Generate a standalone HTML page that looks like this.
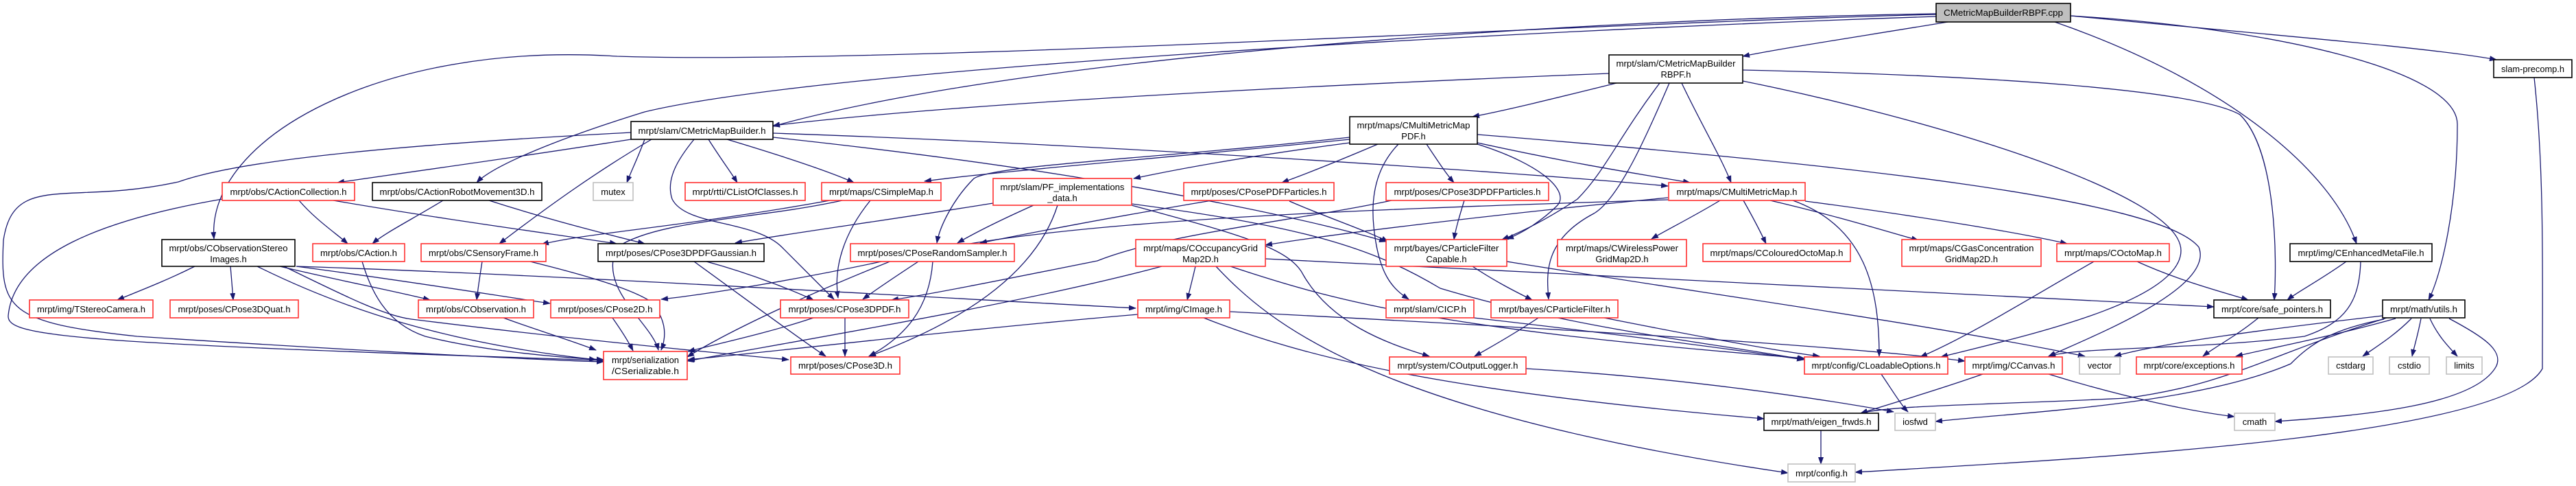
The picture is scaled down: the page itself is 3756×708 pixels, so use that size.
<!DOCTYPE html>
<html><head><meta charset="utf-8"><style>
html,body{margin:0;padding:0;background:#fff;}
svg{display:block;}
text{font-family:"Liberation Sans",Arial,sans-serif;font-size:13px;fill:#000;}
.r{fill:#fff;stroke:#ff3030;stroke-width:1.6;}
.b{fill:#fff;stroke:#000;stroke-width:1.6;}
.g{fill:#fff;stroke:#c0c0c0;stroke-width:1.6;}
.e{fill:none;stroke:#191970;stroke-width:1.3;}
</style></head><body>
<svg width="3756" height="708" viewBox="0 0 3756 708" xmlns="http://www.w3.org/2000/svg">
<defs><marker id="a" markerUnits="userSpaceOnUse" markerWidth="11" markerHeight="8" refX="10" refY="4" orient="auto"><path d="M0,0 L11,4 L0,8 z" fill="#191970"/></marker></defs>
<g class="e" marker-end="url(#a)">
<path d="M2840,32 C2700,55 2600,70 2541,82"/>
<path d="M2823,20 C2300,28 1500,80 1127,184"/>
<path d="M2823,21 C2300,34 1300,95 900,82 C560,60 300,200 312,348"/>
<path d="M2823,24 C2200,45 1200,100 940,163 C820,200 720,240 695,266"/>
<path d="M2996,32 C3250,120 3400,250 3436,355"/>
<path d="M3019,23 C3300,40 3583,100 3583,181 C3583,300 3560,400 3541,437"/>
<path d="M3019,23 C3300,50 3550,70 3640,87"/>
<path d="M3695,113 C3710,250 3707,400 3707,537 C3650,640 3000,670 2705,688"/>
<path d="M2357,121 C2280,140 2200,160 2147,170"/>
<path d="M2346,107 C1900,125 1400,150 1127,183"/>
<path d="M2452,121 C2480,180 2510,230 2524,266"/>
<path d="M2420,121 C2360,200 2340,250 2300,290 C2240,330 2200,345 2190,349"/>
<path d="M2434,121 C2400,200 2360,290 2324,311 C2250,350 2255,400 2258,436"/>
<path d="M2541,102 C2900,110 3200,130 3266,167 C3320,220 3320,380 3316,437"/>
<path d="M2541,118 C2800,170 3180,280 3180,365 C3180,440 2950,490 2830,520"/>
<path d="M1968,203 C1700,230 1450,250 1348,264"/>
<path d="M1968,208 C1800,230 1700,250 1653,260"/>
<path d="M2009,210 C1950,235 1900,255 1869,266"/>
<path d="M1968,200 C1700,230 1450,240 1420,260 C1390,290 1370,330 1366,354"/>
<path d="M2080,210 C2100,240 2110,255 2120,266"/>
<path d="M2154,208 C2300,240 2400,255 2464,266"/>
<path d="M2154,210 C2250,240 2290,280 2270,300 C2250,320 2220,340 2197,348"/>
<path d="M2039,210 C2000,250 2000,300 2003,330 C2010,400 2030,420 2054,436"/>
<path d="M2154,196 C2700,240 3150,290 3206,360 C3230,420 3050,490 2987,519"/>
<path d="M920,203 C750,230 600,250 492,266"/>
<path d="M920,193 C500,215 330,240 260,265 C100,300 20,250 5,350 C0,450 10,470 200,490 C500,510 800,525 880,527"/>
<path d="M940,203 C930,230 920,250 914,266"/>
<path d="M1033,203 C1050,230 1065,250 1075,266"/>
<path d="M1060,203 C1150,230 1210,250 1245,266"/>
<path d="M1012,203 C990,230 970,260 980,290 C1000,330 1100,320 1140,360 C1180,400 1200,420 1216,436"/>
<path d="M1127,194 C1600,210 2200,250 2432,271"/>
<path d="M1127,200 C1500,240 1700,280 1800,300 C1900,320 1980,340 2021,352"/>
<path d="M950,203 C870,250 800,300 728,355"/>
<path d="M436,292 C460,320 490,340 507,355"/>
<path d="M486,292 C650,320 800,340 899,355"/>
<path d="M324,290 C150,320 20,370 12,460 C10,490 100,500 880,525"/>
<path d="M646,292 C600,320 560,340 543,355"/>
<path d="M713,292 C800,320 880,340 940,355"/>
<path d="M284,388 C240,410 200,425 171,437"/>
<path d="M336,388 C338,410 339,425 340,437"/>
<path d="M408,388 C500,410 580,425 627,437"/>
<path d="M432,388 C600,410 720,430 802,442"/>
<path d="M432,388 C800,400 1300,430 1656,449"/>
<path d="M375,388 C500,450 650,500 869,524"/>
<path d="M414,388 C500,430 560,460 600,465 C800,490 1000,510 1150,524"/>
<path d="M528,381 C540,420 560,470 620,490 C700,510 800,520 880,524"/>
<path d="M703,381 C700,400 697,420 695,437"/>
<path d="M773,381 C850,400 920,420 950,440 C975,470 970,495 964,510"/>
<path d="M734,463 C780,480 830,495 869,510"/>
<path d="M893,463 C905,480 915,495 923,511"/>
<path d="M1030,381 C1100,400 1160,425 1186,437"/>
<path d="M1012,381 C1080,430 1160,490 1204,519"/>
<path d="M1269,292 C1230,340 1215,390 1222,434"/>
<path d="M1228,292 C1100,320 960,320 900,360 C870,420 950,470 960,510"/>
<path d="M1210,292 C1000,330 850,340 790,356"/>
<path d="M1448,296 C1300,320 1150,340 1072,354"/>
<path d="M1507,299 C1460,320 1420,340 1396,354"/>
<path d="M1542,299 C1510,400 1400,470 1267,519"/>
<path d="M1650,299 C1800,340 1880,360 1900,400 C1940,470 2020,500 2084,519"/>
<path d="M1650,297 C1900,330 2000,360 2100,420 C2300,480 2500,500 2631,524"/>
<path d="M1767,292 C1600,320 1500,340 1429,354"/>
<path d="M1880,293 C1930,315 1990,335 2024,352"/>
<path d="M2135,292 C2128,315 2122,335 2120,349"/>
<path d="M2029,292 C1900,320 1700,340 1600,380 C1450,410 1350,430 1300,437"/>
<path d="M2432,288 C2200,310 1950,340 1845,357"/>
<path d="M2508,292 C2470,315 2430,335 2408,348"/>
<path d="M2542,292 C2555,315 2568,340 2575,355"/>
<path d="M2581,292 C2680,315 2760,340 2797,350"/>
<path d="M2632,293 C2800,315 2950,340 3014,355"/>
<path d="M2614,292 C2720,330 2740,420 2740,519"/>
<path d="M2432,291 C2000,305 1500,320 1300,380 C1150,440 1050,490 1002,520"/>
<path d="M2147,388 C2180,410 2210,425 2234,437"/>
<path d="M2197,381 C2500,430 2800,470 3040,519"/>
<path d="M1743,388 C1738,410 1734,425 1731,437"/>
<path d="M1694,388 C1500,440 1200,490 1002,526"/>
<path d="M1794,388 C1950,440 2100,480 2631,522"/>
<path d="M1773,388 C1850,470 2000,600 2607,689"/>
<path d="M1845,377 C2300,400 2900,430 3228,447"/>
<path d="M1659,458 C1400,480 1150,510 1003,524"/>
<path d="M1793,454 C2300,480 2700,505 2865,526"/>
<path d="M1755,463 C1900,520 2100,570 2572,610"/>
<path d="M1232,463 L1232,519"/>
<path d="M1186,463 C1120,485 1050,500 1003,512"/>
<path d="M1339,381 C1310,400 1280,420 1258,436"/>
<path d="M1360,381 C1355,450 1320,490 1267,519"/>
<path d="M1285,381 C1150,410 1020,430 964,436"/>
<path d="M2149,463 C2300,480 2500,505 2630,524"/>
<path d="M2243,463 C2210,485 2175,505 2150,519"/>
<path d="M2339,463 C2450,485 2580,510 2653,519"/>
<path d="M2225,537 C2450,550 2650,580 2761,600"/>
<path d="M2743,545 C2760,570 2772,590 2782,600"/>
<path d="M2655,627 L2655,676"/>
<path d="M3116,381 C3180,410 3240,425 3278,437"/>
<path d="M3053,381 C2950,440 2870,490 2800,520"/>
<path d="M3421,381 C3380,410 3350,425 3335,437"/>
<path d="M3442,381 C3440,440 3420,470 3360,490 C3200,510 3030,505 2987,519"/>
<path d="M3293,463 C3260,490 3230,505 3212,519"/>
<path d="M3474,460 C3300,480 3150,500 3083,519"/>
<path d="M3493,464 C3400,490 3320,505 3260,519"/>
<path d="M3516,464 C3490,490 3465,505 3445,519"/>
<path d="M3530,464 C3525,490 3520,505 3517,519"/>
<path d="M3543,464 C3555,490 3570,505 3583,519"/>
<path d="M3571,464 C3620,490 3650,510 3640,533 C3610,590 3450,605 3317,614"/>
<path d="M3476,465 C3400,480 3370,500 3340,530 C3200,590 2950,600 2822,614"/>
<path d="M3480,463 C3300,520 3250,560 3100,580 C2900,590 2760,590 2713,602"/>
<path d="M2987,545 C3100,580 3200,600 3258,607"/>
<path d="M2891,545 C2820,570 2750,590 2713,602"/>
</g>
<!-- nodes -->
<rect class="g" x="2823" y="5" width="196" height="27" style="fill:#bfbfbf;stroke:#000"/><text x="2921" y="23" text-anchor="middle" textLength="174" lengthAdjust="spacingAndGlyphs">CMetricMapBuilderRBPF.cpp</text>
<rect class="b" x="2346" y="80" width="195" height="41"/><text x="2443.5" y="97" text-anchor="middle" textLength="174" lengthAdjust="spacingAndGlyphs">mrpt/slam/CMetricMapBuilder</text><text x="2443.5" y="113" text-anchor="middle">RBPF.h</text>
<rect class="b" x="3636" y="87" width="114" height="26"/><text x="3693" y="105" text-anchor="middle" textLength="92" lengthAdjust="spacingAndGlyphs">slam-precomp.h</text>
<rect class="b" x="920" y="177" width="207" height="26"/><text x="1023.5" y="195" text-anchor="middle" textLength="186" lengthAdjust="spacingAndGlyphs">mrpt/slam/CMetricMapBuilder.h</text>
<rect class="b" x="1968" y="170" width="186" height="40"/><text x="2061" y="187" text-anchor="middle" textLength="165" lengthAdjust="spacingAndGlyphs">mrpt/maps/CMultiMetricMap</text><text x="2061" y="203" text-anchor="middle">PDF.h</text>
<rect class="r" x="324" y="266" width="193" height="26"/><text x="420.5" y="284" text-anchor="middle" textLength="170" lengthAdjust="spacingAndGlyphs">mrpt/obs/CActionCollection.h</text>
<rect class="b" x="543" y="266" width="247" height="26"/><text x="666.5" y="284" text-anchor="middle" textLength="226" lengthAdjust="spacingAndGlyphs">mrpt/obs/CActionRobotMovement3D.h</text>
<rect class="g" x="865" y="266" width="58" height="26"/><text x="894" y="284" text-anchor="middle">mutex</text>
<rect class="r" x="999" y="266" width="175" height="26"/><text x="1086.5" y="284" text-anchor="middle" textLength="154" lengthAdjust="spacingAndGlyphs">mrpt/rtti/CListOfClasses.h</text>
<rect class="r" x="1198" y="266" width="174" height="26"/><text x="1285" y="284" text-anchor="middle" textLength="152" lengthAdjust="spacingAndGlyphs">mrpt/maps/CSimpleMap.h</text>
<rect class="r" x="1448" y="260" width="202" height="39"/><text x="1549" y="277" text-anchor="middle" textLength="181" lengthAdjust="spacingAndGlyphs">mrpt/slam/PF_implementations</text><text x="1549" y="293" text-anchor="middle">_data.h</text>
<rect class="r" x="1726" y="266" width="219" height="26"/><text x="1835.5" y="284" text-anchor="middle" textLength="198" lengthAdjust="spacingAndGlyphs">mrpt/poses/CPosePDFParticles.h</text>
<rect class="r" x="2021" y="266" width="237" height="26"/><text x="2139.5" y="284" text-anchor="middle" textLength="214" lengthAdjust="spacingAndGlyphs">mrpt/poses/CPose3DPDFParticles.h</text>
<rect class="r" x="2433" y="266" width="199" height="26"/><text x="2532.5" y="284" text-anchor="middle" textLength="176" lengthAdjust="spacingAndGlyphs">mrpt/maps/CMultiMetricMap.h</text>
<rect class="b" x="236" y="349" width="194" height="39"/><text x="333" y="366" text-anchor="middle" textLength="173" lengthAdjust="spacingAndGlyphs">mrpt/obs/CObservationStereo</text><text x="333" y="382" text-anchor="middle">Images.h</text>
<rect class="r" x="456" y="355" width="134" height="26"/><text x="523" y="373" text-anchor="middle" textLength="112" lengthAdjust="spacingAndGlyphs">mrpt/obs/CAction.h</text>
<rect class="r" x="614" y="355" width="182" height="26"/><text x="705" y="373" text-anchor="middle" textLength="160" lengthAdjust="spacingAndGlyphs">mrpt/obs/CSensoryFrame.h</text>
<rect class="b" x="872" y="355" width="242" height="26"/><text x="993" y="373" text-anchor="middle" textLength="220" lengthAdjust="spacingAndGlyphs">mrpt/poses/CPose3DPDFGaussian.h</text>
<rect class="r" x="1240" y="355" width="239" height="26"/><text x="1359.5" y="373" text-anchor="middle" textLength="218" lengthAdjust="spacingAndGlyphs">mrpt/poses/CPoseRandomSampler.h</text>
<rect class="r" x="1656" y="349" width="189" height="39"/><text x="1750.5" y="366" text-anchor="middle" textLength="167" lengthAdjust="spacingAndGlyphs">mrpt/maps/COccupancyGrid</text><text x="1750.5" y="382" text-anchor="middle">Map2D.h</text>
<rect class="r" x="2021" y="349" width="176" height="39"/><text x="2109" y="366" text-anchor="middle" textLength="153" lengthAdjust="spacingAndGlyphs">mrpt/bayes/CParticleFilter</text><text x="2109" y="382" text-anchor="middle">Capable.h</text>
<rect class="r" x="2271" y="349" width="188" height="39"/><text x="2365" y="366" text-anchor="middle" textLength="164" lengthAdjust="spacingAndGlyphs">mrpt/maps/CWirelessPower</text><text x="2365" y="382" text-anchor="middle">GridMap2D.h</text>
<rect class="r" x="2483" y="355" width="215" height="26"/><text x="2590.5" y="373" text-anchor="middle" textLength="194" lengthAdjust="spacingAndGlyphs">mrpt/maps/CColouredOctoMap.h</text>
<rect class="r" x="2773" y="349" width="203" height="39"/><text x="2874.5" y="366" text-anchor="middle" textLength="182" lengthAdjust="spacingAndGlyphs">mrpt/maps/CGasConcentration</text><text x="2874.5" y="382" text-anchor="middle">GridMap2D.h</text>
<rect class="r" x="2999" y="355" width="164" height="26"/><text x="3081" y="373" text-anchor="middle" textLength="142" lengthAdjust="spacingAndGlyphs">mrpt/maps/COctoMap.h</text>
<rect class="b" x="3339" y="355" width="207" height="26"/><text x="3442.5" y="373" text-anchor="middle" textLength="184" lengthAdjust="spacingAndGlyphs">mrpt/img/CEnhancedMetaFile.h</text>
<rect class="r" x="43" y="437" width="180" height="26"/><text x="133" y="455" text-anchor="middle" textLength="158" lengthAdjust="spacingAndGlyphs">mrpt/img/TStereoCamera.h</text>
<rect class="r" x="248" y="437" width="187" height="26"/><text x="341.5" y="455" text-anchor="middle" textLength="164" lengthAdjust="spacingAndGlyphs">mrpt/poses/CPose3DQuat.h</text>
<rect class="r" x="610" y="437" width="168" height="26"/><text x="694" y="455" text-anchor="middle" textLength="146" lengthAdjust="spacingAndGlyphs">mrpt/obs/CObservation.h</text>
<rect class="r" x="803" y="437" width="159" height="26"/><text x="882.5" y="455" text-anchor="middle" textLength="138" lengthAdjust="spacingAndGlyphs">mrpt/poses/CPose2D.h</text>
<rect class="r" x="1138" y="437" width="187" height="26"/><text x="1231.5" y="455" text-anchor="middle" textLength="164" lengthAdjust="spacingAndGlyphs">mrpt/poses/CPose3DPDF.h</text>
<rect class="r" x="1659" y="437" width="134" height="26"/><text x="1726" y="455" text-anchor="middle" textLength="112" lengthAdjust="spacingAndGlyphs">mrpt/img/CImage.h</text>
<rect class="r" x="2021" y="437" width="128" height="26"/><text x="2085" y="455" text-anchor="middle" textLength="106" lengthAdjust="spacingAndGlyphs">mrpt/slam/CICP.h</text>
<rect class="r" x="2174" y="437" width="185" height="26"/><text x="2266.5" y="455" text-anchor="middle" textLength="163" lengthAdjust="spacingAndGlyphs">mrpt/bayes/CParticleFilter.h</text>
<rect class="b" x="3228" y="437" width="170" height="26"/><text x="3313" y="455" text-anchor="middle" textLength="148" lengthAdjust="spacingAndGlyphs">mrpt/core/safe_pointers.h</text>
<rect class="b" x="3474" y="437" width="120" height="26"/><text x="3534" y="455" text-anchor="middle" textLength="98" lengthAdjust="spacingAndGlyphs">mrpt/math/utils.h</text>
<rect class="r" x="880" y="512" width="122" height="41"/><text x="941" y="529" text-anchor="middle" textLength="98" lengthAdjust="spacingAndGlyphs">mrpt/serialization</text><text x="941" y="545" text-anchor="middle" textLength="98" lengthAdjust="spacingAndGlyphs">/CSerializable.h</text>
<rect class="r" x="1153" y="520" width="159" height="25"/><text x="1232.5" y="537" text-anchor="middle" textLength="137" lengthAdjust="spacingAndGlyphs">mrpt/poses/CPose3D.h</text>
<rect class="r" x="2026" y="520" width="199" height="25"/><text x="2125.5" y="537" text-anchor="middle" textLength="176" lengthAdjust="spacingAndGlyphs">mrpt/system/COutputLogger.h</text>
<rect class="r" x="2631" y="520" width="209" height="25"/><text x="2735.5" y="537" text-anchor="middle" textLength="188" lengthAdjust="spacingAndGlyphs">mrpt/config/CLoadableOptions.h</text>
<rect class="r" x="2865" y="520" width="142" height="25"/><text x="2936" y="537" text-anchor="middle" textLength="121" lengthAdjust="spacingAndGlyphs">mrpt/img/CCanvas.h</text>
<rect class="g" x="3032" y="520" width="59" height="25"/><text x="3061.5" y="537" text-anchor="middle">vector</text>
<rect class="r" x="3115" y="520" width="154" height="25"/><text x="3192" y="537" text-anchor="middle" textLength="133" lengthAdjust="spacingAndGlyphs">mrpt/core/exceptions.h</text>
<rect class="g" x="3395" y="520" width="65" height="25"/><text x="3427.5" y="537" text-anchor="middle">cstdarg</text>
<rect class="g" x="3484" y="520" width="58" height="25"/><text x="3513" y="537" text-anchor="middle">cstdio</text>
<rect class="g" x="3567" y="520" width="52" height="25"/><text x="3593" y="537" text-anchor="middle">limits</text>
<rect class="b" x="2572" y="602" width="167" height="25"/><text x="2655.5" y="619" text-anchor="middle" textLength="146" lengthAdjust="spacingAndGlyphs">mrpt/math/eigen_frwds.h</text>
<rect class="g" x="2763" y="602" width="59" height="25"/><text x="2792.5" y="619" text-anchor="middle">iosfwd</text>
<rect class="g" x="3258" y="602" width="59" height="25"/><text x="3287.5" y="619" text-anchor="middle">cmath</text>
<rect class="g" x="2607" y="676" width="98" height="26"/><text x="2656" y="694" text-anchor="middle" textLength="76" lengthAdjust="spacingAndGlyphs">mrpt/config.h</text>
</svg>
</body></html>
